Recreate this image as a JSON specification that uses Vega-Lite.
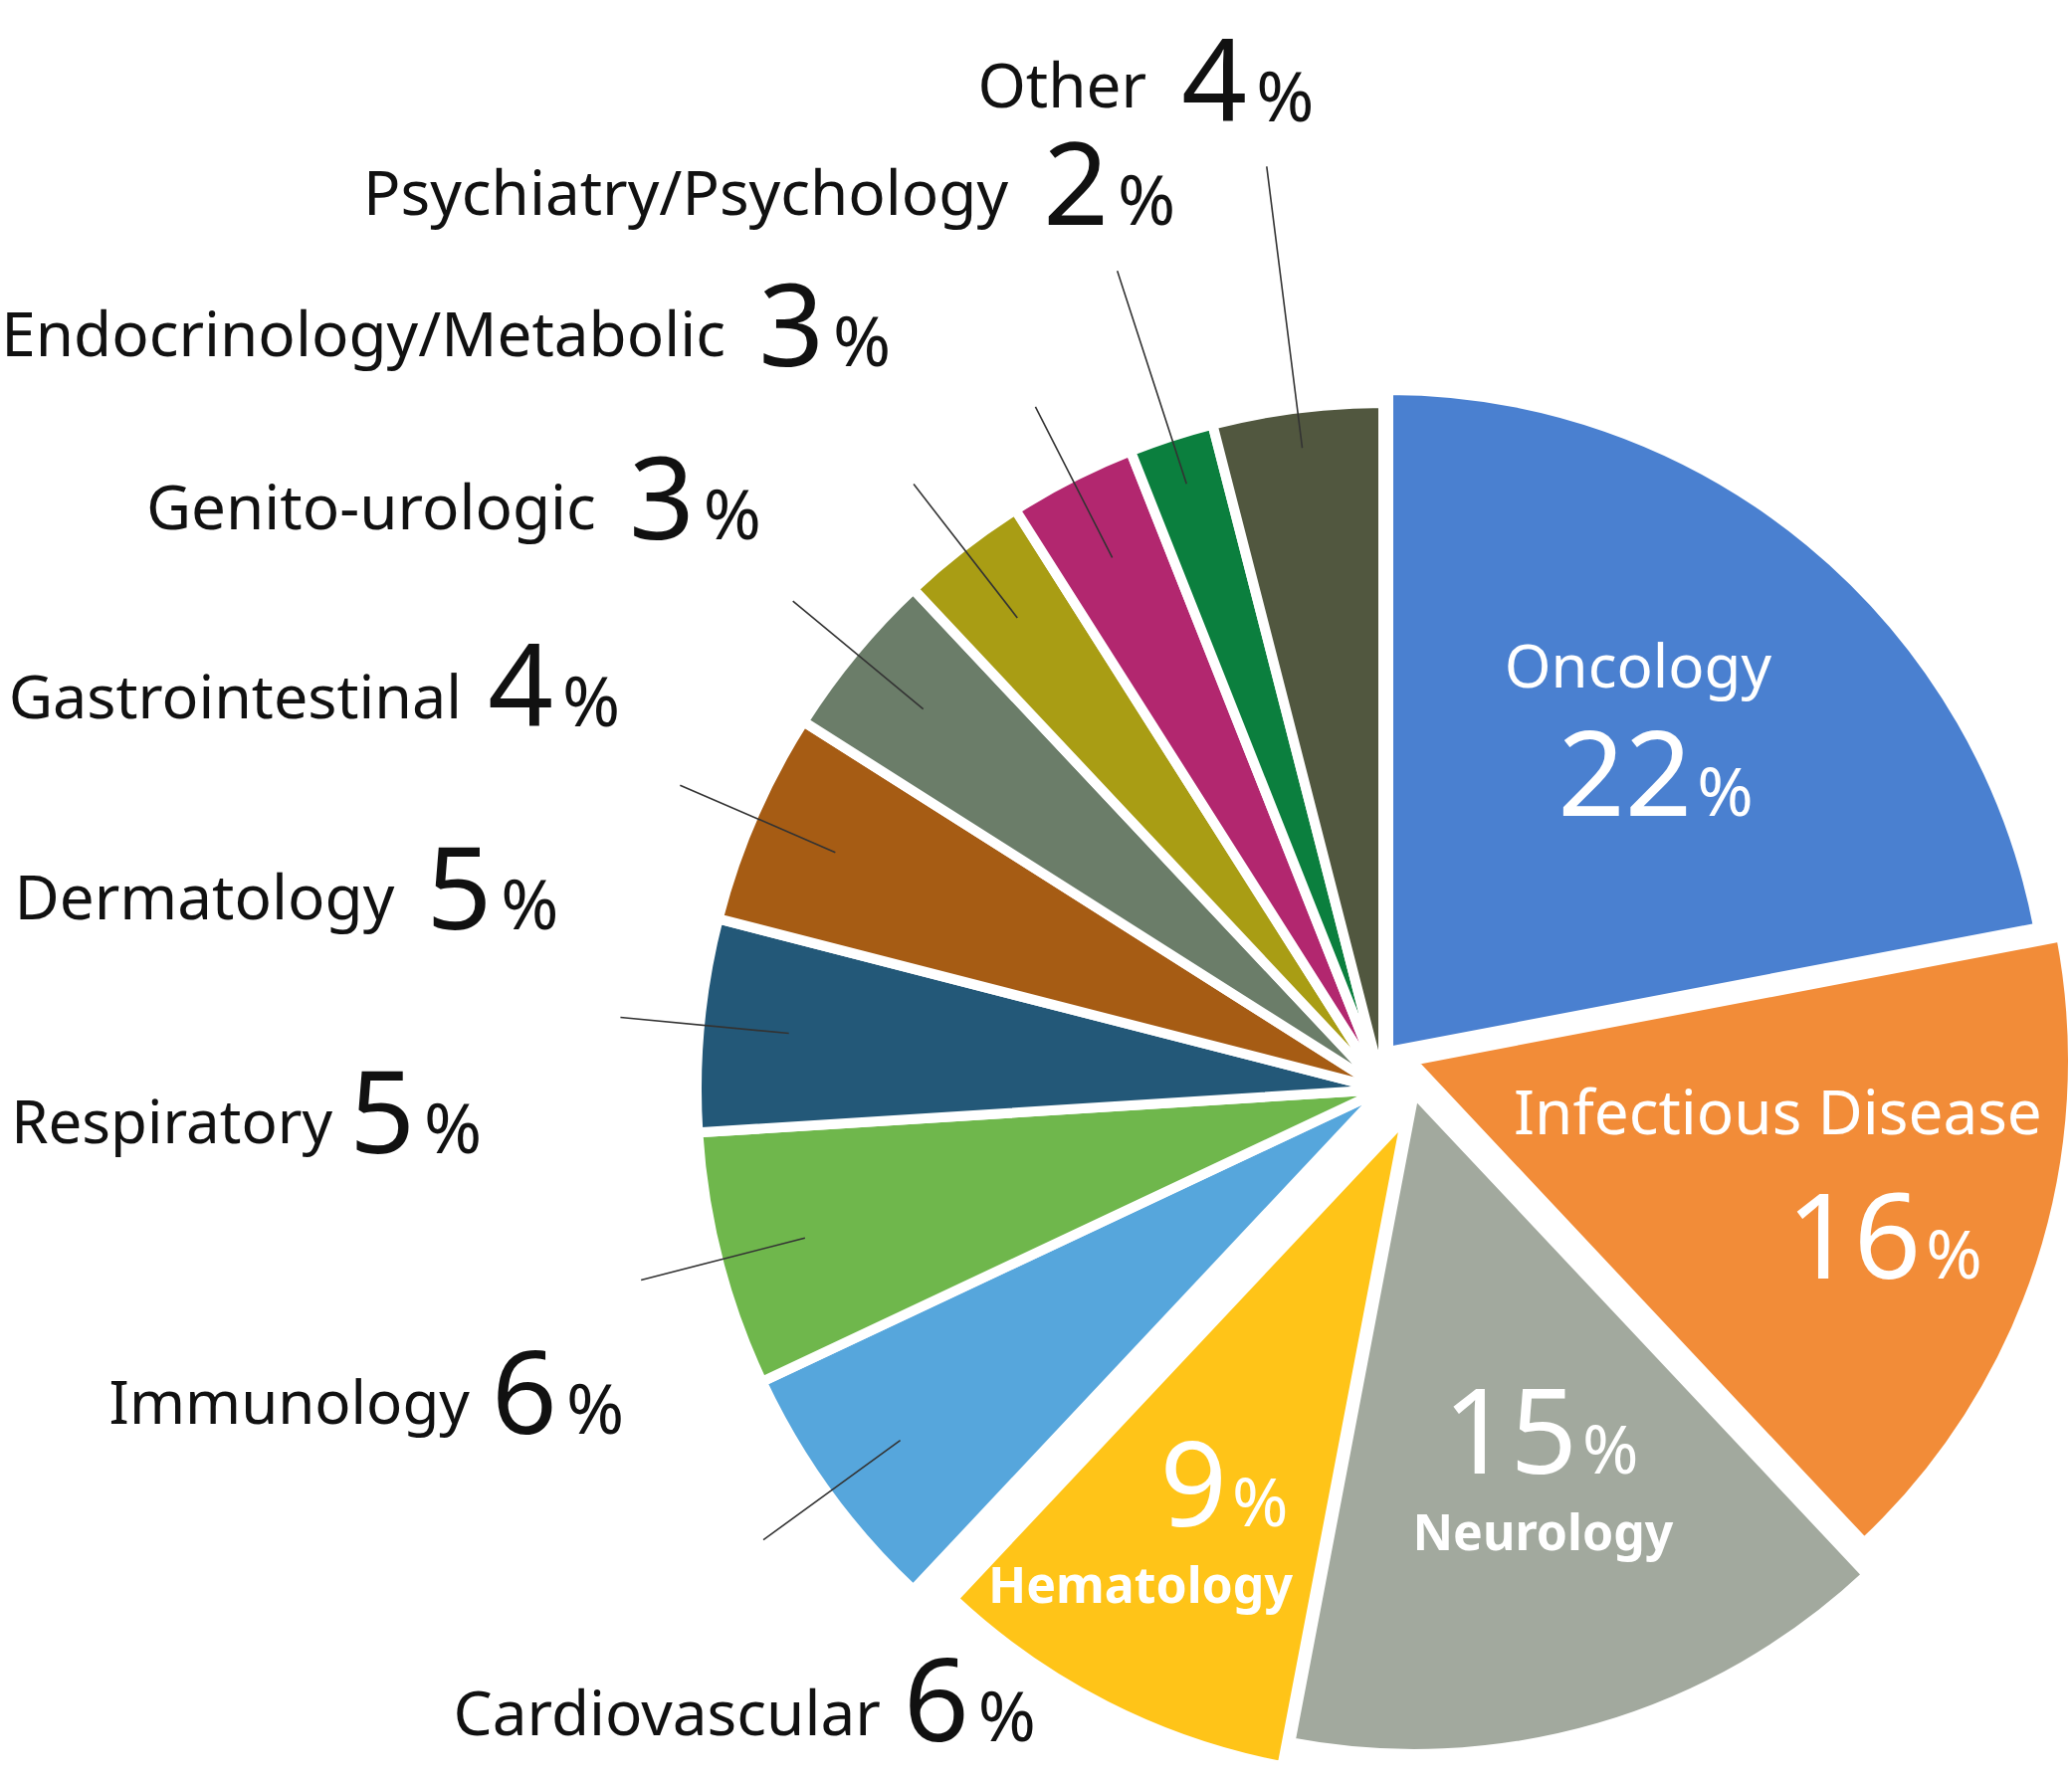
{
  "$schema": "https://vega.github.io/schema/vega-lite/v6.json",
  "width": 1380,
  "height": 1380,
  "autosize": "none",
  "padding": {"left": 700, "top": 405, "right": 2, "bottom": 5},
  "background": "white",
  "config": {"view": {"stroke": null}, "font": "Noto Sans", "text": {"font": "Noto Sans"}},
  "data": {"values": [
    {"cat": "Oncology", "pct": 22},
    {"cat": "Infectious Disease", "pct": 16},
    {"cat": "Neurology", "pct": 15},
    {"cat": "Hematology", "pct": 9},
    {"cat": "Cardiovascular", "pct": 6},
    {"cat": "Immunology", "pct": 6},
    {"cat": "Respiratory", "pct": 5},
    {"cat": "Dermatology", "pct": 5},
    {"cat": "Gastrointestinal", "pct": 4},
    {"cat": "Genito-urologic", "pct": 3},
    {"cat": "Endocrinology/Metabolic", "pct": 3},
    {"cat": "Psychiatry/Psychology", "pct": 2},
    {"cat": "Other", "pct": 4}
  ]},
  "transform": [
    {"window": [{"op": "row_number", "as": "rank"}]},
    {"stack": "pct", "groupby": [], "sort": [{"field": "rank", "order": "ascending"}], "as": ["s0", "s1"]}
  ],
  "layer": [
    {"transform": [{"filter": {"field": "cat", "oneOf": ["Cardiovascular", "Immunology", "Respiratory", "Dermatology", "Gastrointestinal", "Genito-urologic", "Endocrinology/Metabolic", "Psychiatry/Psychology", "Other"]}}],
     "mark": {"type": "arc", "outerRadius": 690, "stroke": "white", "strokeWidth": 10, "strokeJoin": "round"},
     "encoding": {
       "theta": {"field": "s0", "type": "quantitative", "stack": null, "scale": {"domain": [0, 100]}},
       "theta2": {"field": "s1"},
       "color": {"field": "cat", "type": "nominal", "legend": null, "scale": {"domain": ["Oncology", "Infectious Disease", "Neurology", "Hematology", "Cardiovascular", "Immunology", "Respiratory", "Dermatology", "Gastrointestinal", "Genito-urologic", "Endocrinology/Metabolic", "Psychiatry/Psychology", "Other"], "range": ["#4A80D0", "#F28C38", "#A2A99E", "#FFC418", "#56A6DC", "#6FB74C", "#235878", "#A65C14", "#6B7D69", "#A99D14", "#B2276F", "#0B7F3E", "#51573F"]}}
     }},
    {"transform": [{"filter": {"field": "cat", "equal": "Oncology"}}],
     "mark": {"type": "arc", "outerRadius": 665, "stroke": "white", "strokeWidth": 10, "strokeJoin": "round", "xOffset": 5, "yOffset": -38},
     "encoding": {
       "theta": {"field": "s0", "type": "quantitative", "stack": null, "scale": {"domain": [0, 100]}},
       "theta2": {"field": "s1"},
       "color": {"field": "cat", "type": "nominal", "legend": null}
     }},
    {"transform": [{"filter": {"field": "cat", "equal": "Infectious Disease"}}],
     "mark": {"type": "arc", "outerRadius": 665, "stroke": "white", "strokeWidth": 10, "strokeJoin": "round", "xOffset": 28, "yOffset": -29},
     "encoding": {
       "theta": {"field": "s0", "type": "quantitative", "stack": null, "scale": {"domain": [0, 100]}},
       "theta2": {"field": "s1"},
       "color": {"field": "cat", "type": "nominal", "legend": null}
     }},
    {"transform": [{"filter": {"field": "cat", "equal": "Neurology"}}],
     "mark": {"type": "arc", "outerRadius": 665, "stroke": "white", "strokeWidth": 10, "strokeJoin": "round", "xOffset": 31, "yOffset": 3},
     "encoding": {
       "theta": {"field": "s0", "type": "quantitative", "stack": null, "scale": {"domain": [0, 100]}},
       "theta2": {"field": "s1"},
       "color": {"field": "cat", "type": "nominal", "legend": null}
     }},
    {"transform": [{"filter": {"field": "cat", "equal": "Hematology"}}],
     "mark": {"type": "arc", "outerRadius": 665, "stroke": "white", "strokeWidth": 10, "strokeJoin": "round", "xOffset": 23, "yOffset": 27},
     "encoding": {
       "theta": {"field": "s0", "type": "quantitative", "stack": null, "scale": {"domain": [0, 100]}},
       "theta2": {"field": "s1"},
       "color": {"field": "cat", "type": "nominal", "legend": null}
     }},
    {"transform": [{"filter": {"field": "cat", "oneOf": ["Cardiovascular", "Immunology", "Respiratory", "Dermatology", "Gastrointestinal", "Genito-urologic", "Endocrinology/Metabolic"]}}],
     "mark": {"type": "arc", "innerRadius": 600, "outerRadius": 770, "padAngle": 1.2, "filled": false, "stroke": "#333333", "strokeWidth": 1.6},
     "encoding": {
       "theta": {"field": "s0", "type": "quantitative", "stack": null, "scale": {"domain": [0, 100]}},
       "theta2": {"field": "s1"}
     }},
    {"transform": [{"filter": {"field": "cat", "equal": "Other"}}],
     "mark": {"type": "arc", "innerRadius": 650, "outerRadius": 935, "padAngle": 1.2, "filled": false, "stroke": "#333333", "strokeWidth": 1.6},
     "encoding": {
       "theta": {"field": "s0", "type": "quantitative", "stack": null, "scale": {"domain": [0, 100]}},
       "theta2": {"field": "s1"}
     }},
    {"transform": [{"filter": {"field": "cat", "equal": "Psychiatry/Psychology"}}],
     "mark": {"type": "arc", "innerRadius": 640, "outerRadius": 865, "padAngle": 1.2, "filled": false, "stroke": "#333333", "strokeWidth": 1.6},
     "encoding": {
       "theta": {"field": "s0", "type": "quantitative", "stack": null, "scale": {"domain": [0, 100]}},
       "theta2": {"field": "s1"}
     }},

    {"transform": [{"filter": {"field": "cat", "equal": "Other"}}],
     "mark": {"type": "text", "radius": 983, "thetaOffset": 0.1065, "align": "right", "baseline": "alphabetic", "dx": -96, "dy": -14, "fontSize": 62, "color": "#111111"},
     "encoding": {"theta": {"field": "s0", "type": "quantitative", "stack": null, "scale": {"domain": [0, 100]}}, "text": {"field": "cat"}}},
    {"transform": [{"filter": {"field": "cat", "equal": "Other"}}],
     "mark": {"type": "text", "radius": 983, "thetaOffset": 0.1065, "align": "right", "baseline": "alphabetic", "dx": 5, "fontSize": 115, "color": "#111111"},
     "encoding": {"theta": {"field": "s0", "type": "quantitative", "stack": null, "scale": {"domain": [0, 100]}}, "text": {"field": "pct", "type": "quantitative"}}},
    {"transform": [{"filter": {"field": "cat", "equal": "Other"}}],
     "mark": {"type": "text", "radius": 983, "thetaOffset": 0.1065, "align": "left", "baseline": "alphabetic", "dx": 14, "fontSize": 70, "color": "#111111", "text": "%"},
     "encoding": {"theta": {"field": "s0", "type": "quantitative", "stack": null, "scale": {"domain": [0, 100]}}}},

    {"transform": [{"filter": {"field": "cat", "equal": "Psychiatry/Psychology"}}],
     "mark": {"type": "text", "radius": 913, "thetaOffset": 0.0642, "align": "right", "baseline": "alphabetic", "dx": -96, "dy": -10, "fontSize": 62, "color": "#111111"},
     "encoding": {"theta": {"field": "s0", "type": "quantitative", "stack": null, "scale": {"domain": [0, 100]}}, "text": {"field": "cat"}}},
    {"transform": [{"filter": {"field": "cat", "equal": "Psychiatry/Psychology"}}],
     "mark": {"type": "text", "radius": 913, "thetaOffset": 0.0642, "align": "right", "baseline": "alphabetic", "dx": 5, "fontSize": 115, "color": "#111111"},
     "encoding": {"theta": {"field": "s0", "type": "quantitative", "stack": null, "scale": {"domain": [0, 100]}}, "text": {"field": "pct", "type": "quantitative"}}},
    {"transform": [{"filter": {"field": "cat", "equal": "Psychiatry/Psychology"}}],
     "mark": {"type": "text", "radius": 913, "thetaOffset": 0.0642, "align": "left", "baseline": "alphabetic", "dx": 14, "fontSize": 70, "color": "#111111", "text": "%"},
     "encoding": {"theta": {"field": "s0", "type": "quantitative", "stack": null, "scale": {"domain": [0, 100]}}}},

    {"transform": [{"filter": {"field": "cat", "equal": "Endocrinology/Metabolic"}}],
     "mark": {"type": "text", "radius": 922, "thetaOffset": -0.0969, "align": "right", "baseline": "alphabetic", "dx": -94, "dy": -10, "fontSize": 62, "color": "#111111"},
     "encoding": {"theta": {"field": "s0", "type": "quantitative", "stack": null, "scale": {"domain": [0, 100]}}, "text": {"field": "cat"}}},
    {"transform": [{"filter": {"field": "cat", "equal": "Endocrinology/Metabolic"}}],
     "mark": {"type": "text", "radius": 922, "thetaOffset": -0.0969, "align": "right", "baseline": "alphabetic", "dx": 5, "fontSize": 115, "color": "#111111"},
     "encoding": {"theta": {"field": "s0", "type": "quantitative", "stack": null, "scale": {"domain": [0, 100]}}, "text": {"field": "pct", "type": "quantitative"}}},
    {"transform": [{"filter": {"field": "cat", "equal": "Endocrinology/Metabolic"}}],
     "mark": {"type": "text", "radius": 922, "thetaOffset": -0.0969, "align": "left", "baseline": "alphabetic", "dx": 14, "fontSize": 70, "color": "#111111", "text": "%"},
     "encoding": {"theta": {"field": "s0", "type": "quantitative", "stack": null, "scale": {"domain": [0, 100]}}}},

    {"transform": [{"filter": {"field": "cat", "equal": "Genito-urologic"}}],
     "mark": {"type": "text", "radius": 890, "thetaOffset": -0.1461, "align": "right", "baseline": "alphabetic", "dx": -94, "dy": -10, "fontSize": 62, "color": "#111111"},
     "encoding": {"theta": {"field": "s0", "type": "quantitative", "stack": null, "scale": {"domain": [0, 100]}}, "text": {"field": "cat"}}},
    {"transform": [{"filter": {"field": "cat", "equal": "Genito-urologic"}}],
     "mark": {"type": "text", "radius": 890, "thetaOffset": -0.1461, "align": "right", "baseline": "alphabetic", "dx": 5, "fontSize": 115, "color": "#111111"},
     "encoding": {"theta": {"field": "s0", "type": "quantitative", "stack": null, "scale": {"domain": [0, 100]}}, "text": {"field": "pct", "type": "quantitative"}}},
    {"transform": [{"filter": {"field": "cat", "equal": "Genito-urologic"}}],
     "mark": {"type": "text", "radius": 890, "thetaOffset": -0.1461, "align": "left", "baseline": "alphabetic", "dx": 14, "fontSize": 70, "color": "#111111", "text": "%"},
     "encoding": {"theta": {"field": "s0", "type": "quantitative", "stack": null, "scale": {"domain": [0, 100]}}}},

    {"transform": [{"filter": {"field": "cat", "equal": "Gastrointestinal"}}],
     "mark": {"type": "text", "radius": 915, "thetaOffset": -0.1552, "align": "right", "baseline": "alphabetic", "dx": -87, "dy": -8, "fontSize": 61, "color": "#111111"},
     "encoding": {"theta": {"field": "s0", "type": "quantitative", "stack": null, "scale": {"domain": [0, 100]}}, "text": {"field": "cat"}}},
    {"transform": [{"filter": {"field": "cat", "equal": "Gastrointestinal"}}],
     "mark": {"type": "text", "radius": 915, "thetaOffset": -0.1552, "align": "right", "baseline": "alphabetic", "dx": 5, "fontSize": 115, "color": "#111111"},
     "encoding": {"theta": {"field": "s0", "type": "quantitative", "stack": null, "scale": {"domain": [0, 100]}}, "text": {"field": "pct", "type": "quantitative"}}},
    {"transform": [{"filter": {"field": "cat", "equal": "Gastrointestinal"}}],
     "mark": {"type": "text", "radius": 915, "thetaOffset": -0.1552, "align": "left", "baseline": "alphabetic", "dx": 14, "fontSize": 70, "color": "#111111", "text": "%"},
     "encoding": {"theta": {"field": "s0", "type": "quantitative", "stack": null, "scale": {"domain": [0, 100]}}}},

    {"transform": [{"filter": {"field": "cat", "equal": "Dermatology"}}],
     "mark": {"type": "text", "radius": 915, "thetaOffset": -0.0745, "align": "right", "baseline": "alphabetic", "dx": -93, "dy": -10, "fontSize": 62, "color": "#111111"},
     "encoding": {"theta": {"field": "s0", "type": "quantitative", "stack": null, "scale": {"domain": [0, 100]}}, "text": {"field": "cat"}}},
    {"transform": [{"filter": {"field": "cat", "equal": "Dermatology"}}],
     "mark": {"type": "text", "radius": 915, "thetaOffset": -0.0745, "align": "right", "baseline": "alphabetic", "dx": 5, "fontSize": 115, "color": "#111111"},
     "encoding": {"theta": {"field": "s0", "type": "quantitative", "stack": null, "scale": {"domain": [0, 100]}}, "text": {"field": "pct", "type": "quantitative"}}},
    {"transform": [{"filter": {"field": "cat", "equal": "Dermatology"}}],
     "mark": {"type": "text", "radius": 915, "thetaOffset": -0.0745, "align": "left", "baseline": "alphabetic", "dx": 14, "fontSize": 70, "color": "#111111", "text": "%"},
     "encoding": {"theta": {"field": "s0", "type": "quantitative", "stack": null, "scale": {"domain": [0, 100]}}}},

    {"transform": [{"filter": {"field": "cat", "equal": "Respiratory"}}],
     "mark": {"type": "text", "radius": 980, "thetaOffset": -0.0024, "align": "right", "baseline": "alphabetic", "dx": -78, "dy": -10, "fontSize": 60, "color": "#111111"},
     "encoding": {"theta": {"field": "s0", "type": "quantitative", "stack": null, "scale": {"domain": [0, 100]}}, "text": {"field": "cat"}}},
    {"transform": [{"filter": {"field": "cat", "equal": "Respiratory"}}],
     "mark": {"type": "text", "radius": 980, "thetaOffset": -0.0024, "align": "right", "baseline": "alphabetic", "dx": 5, "fontSize": 115, "color": "#111111"},
     "encoding": {"theta": {"field": "s0", "type": "quantitative", "stack": null, "scale": {"domain": [0, 100]}}, "text": {"field": "pct", "type": "quantitative"}}},
    {"transform": [{"filter": {"field": "cat", "equal": "Respiratory"}}],
     "mark": {"type": "text", "radius": 980, "thetaOffset": -0.0024, "align": "left", "baseline": "alphabetic", "dx": 14, "fontSize": 70, "color": "#111111", "text": "%"},
     "encoding": {"theta": {"field": "s0", "type": "quantitative", "stack": null, "scale": {"domain": [0, 100]}}}},

    {"transform": [{"filter": {"field": "cat", "equal": "Immunology"}}],
     "mark": {"type": "text", "radius": 904, "thetaOffset": 0.0469, "align": "right", "baseline": "alphabetic", "dx": -83, "dy": -10, "fontSize": 60, "color": "#111111"},
     "encoding": {"theta": {"field": "s0", "type": "quantitative", "stack": null, "scale": {"domain": [0, 100]}}, "text": {"field": "cat"}}},
    {"transform": [{"filter": {"field": "cat", "equal": "Immunology"}}],
     "mark": {"type": "text", "radius": 904, "thetaOffset": 0.0469, "align": "right", "baseline": "alphabetic", "dx": 5, "fontSize": 115, "color": "#111111"},
     "encoding": {"theta": {"field": "s0", "type": "quantitative", "stack": null, "scale": {"domain": [0, 100]}}, "text": {"field": "pct", "type": "quantitative"}}},
    {"transform": [{"filter": {"field": "cat", "equal": "Immunology"}}],
     "mark": {"type": "text", "radius": 904, "thetaOffset": 0.0469, "align": "left", "baseline": "alphabetic", "dx": 14, "fontSize": 70, "color": "#111111", "text": "%"},
     "encoding": {"theta": {"field": "s0", "type": "quantitative", "stack": null, "scale": {"domain": [0, 100]}}}},

    {"transform": [{"filter": {"field": "cat", "equal": "Cardiovascular"}}],
     "mark": {"type": "text", "radius": 779, "thetaOffset": -0.1827, "align": "right", "baseline": "alphabetic", "dx": -84, "dy": -6, "fontSize": 62, "color": "#111111"},
     "encoding": {"theta": {"field": "s0", "type": "quantitative", "stack": null, "scale": {"domain": [0, 100]}}, "text": {"field": "cat"}}},
    {"transform": [{"filter": {"field": "cat", "equal": "Cardiovascular"}}],
     "mark": {"type": "text", "radius": 779, "thetaOffset": -0.1827, "align": "right", "baseline": "alphabetic", "dx": 5, "fontSize": 115, "color": "#111111"},
     "encoding": {"theta": {"field": "s0", "type": "quantitative", "stack": null, "scale": {"domain": [0, 100]}}, "text": {"field": "pct", "type": "quantitative"}}},
    {"transform": [{"filter": {"field": "cat", "equal": "Cardiovascular"}}],
     "mark": {"type": "text", "radius": 779, "thetaOffset": -0.1827, "align": "left", "baseline": "alphabetic", "dx": 14, "fontSize": 70, "color": "#111111", "text": "%"},
     "encoding": {"theta": {"field": "s0", "type": "quantitative", "stack": null, "scale": {"domain": [0, 100]}}}},

    {"transform": [{"filter": {"field": "cat", "equal": "Oncology"}}],
     "mark": {"type": "text", "radius": 478, "thetaOffset": 0.5648, "align": "center", "baseline": "alphabetic", "fontSize": 60, "color": "white"},
     "encoding": {"theta": {"field": "s0", "type": "quantitative", "stack": null, "scale": {"domain": [0, 100]}}, "text": {"field": "cat"}}},
    {"transform": [{"filter": {"field": "cat", "equal": "Oncology"}}],
     "mark": {"type": "text", "radius": 411, "thetaOffset": 0.837, "align": "right", "baseline": "alphabetic", "dx": 5, "fontSize": 118, "color": "white"},
     "encoding": {"theta": {"field": "s0", "type": "quantitative", "stack": null, "scale": {"domain": [0, 100]}}, "text": {"field": "pct", "type": "quantitative"}}},
    {"transform": [{"filter": {"field": "cat", "equal": "Oncology"}}],
     "mark": {"type": "text", "radius": 411, "thetaOffset": 0.837, "align": "left", "baseline": "alphabetic", "dx": 10, "fontSize": 68, "color": "white", "text": "%"},
     "encoding": {"theta": {"field": "s0", "type": "quantitative", "stack": null, "scale": {"domain": [0, 100]}}}},

    {"transform": [{"filter": {"field": "cat", "equal": "Infectious Disease"}}],
     "mark": {"type": "text", "radius": 399, "thetaOffset": 0.3016, "align": "center", "baseline": "alphabetic", "fontSize": 62, "color": "white"},
     "encoding": {"theta": {"field": "s0", "type": "quantitative", "stack": null, "scale": {"domain": [0, 100]}}, "text": {"field": "cat"}}},
    {"transform": [{"filter": {"field": "cat", "equal": "Infectious Disease"}}],
     "mark": {"type": "text", "radius": 568, "thetaOffset": 0.5297, "align": "right", "baseline": "alphabetic", "dx": 5, "fontSize": 118, "color": "white"},
     "encoding": {"theta": {"field": "s0", "type": "quantitative", "stack": null, "scale": {"domain": [0, 100]}}, "text": {"field": "pct", "type": "quantitative"}}},
    {"transform": [{"filter": {"field": "cat", "equal": "Infectious Disease"}}],
     "mark": {"type": "text", "radius": 568, "thetaOffset": 0.5297, "align": "left", "baseline": "alphabetic", "dx": 10, "fontSize": 68, "color": "white", "text": "%"},
     "encoding": {"theta": {"field": "s0", "type": "quantitative", "stack": null, "scale": {"domain": [0, 100]}}}},

    {"transform": [{"filter": {"field": "cat", "equal": "Neurology"}}],
     "mark": {"type": "text", "radius": 490, "thetaOffset": 0.4205, "align": "center", "baseline": "alphabetic", "fontSize": 50, "fontWeight": "bold", "color": "white"},
     "encoding": {"theta": {"field": "s0", "type": "quantitative", "stack": null, "scale": {"domain": [0, 100]}}, "text": {"field": "cat"}}},
    {"transform": [{"filter": {"field": "cat", "equal": "Neurology"}}],
     "mark": {"type": "text", "radius": 430, "thetaOffset": 0.2965, "align": "right", "baseline": "alphabetic", "dx": 5, "fontSize": 118, "color": "white"},
     "encoding": {"theta": {"field": "s0", "type": "quantitative", "stack": null, "scale": {"domain": [0, 100]}}, "text": {"field": "pct", "type": "quantitative"}}},
    {"transform": [{"filter": {"field": "cat", "equal": "Neurology"}}],
     "mark": {"type": "text", "radius": 430, "thetaOffset": 0.2965, "align": "left", "baseline": "alphabetic", "dx": 10, "fontSize": 68, "color": "white", "text": "%"},
     "encoding": {"theta": {"field": "s0", "type": "quantitative", "stack": null, "scale": {"domain": [0, 100]}}}},

    {"transform": [{"filter": {"field": "cat", "equal": "Hematology"}}],
     "mark": {"type": "text", "radius": 571, "thetaOffset": 0.2531, "align": "center", "baseline": "alphabetic", "fontSize": 50, "fontWeight": "bold", "color": "white"},
     "encoding": {"theta": {"field": "s0", "type": "quantitative", "stack": null, "scale": {"domain": [0, 100]}}, "text": {"field": "cat"}}},
    {"transform": [{"filter": {"field": "cat", "equal": "Hematology"}}],
     "mark": {"type": "text", "radius": 468, "thetaOffset": 0.1649, "align": "right", "baseline": "alphabetic", "dx": 5, "fontSize": 118, "color": "white"},
     "encoding": {"theta": {"field": "s0", "type": "quantitative", "stack": null, "scale": {"domain": [0, 100]}}, "text": {"field": "pct", "type": "quantitative"}}},
    {"transform": [{"filter": {"field": "cat", "equal": "Hematology"}}],
     "mark": {"type": "text", "radius": 468, "thetaOffset": 0.1649, "align": "left", "baseline": "alphabetic", "dx": 10, "fontSize": 68, "color": "white", "text": "%"},
     "encoding": {"theta": {"field": "s0", "type": "quantitative", "stack": null, "scale": {"domain": [0, 100]}}}}
  ]
}
